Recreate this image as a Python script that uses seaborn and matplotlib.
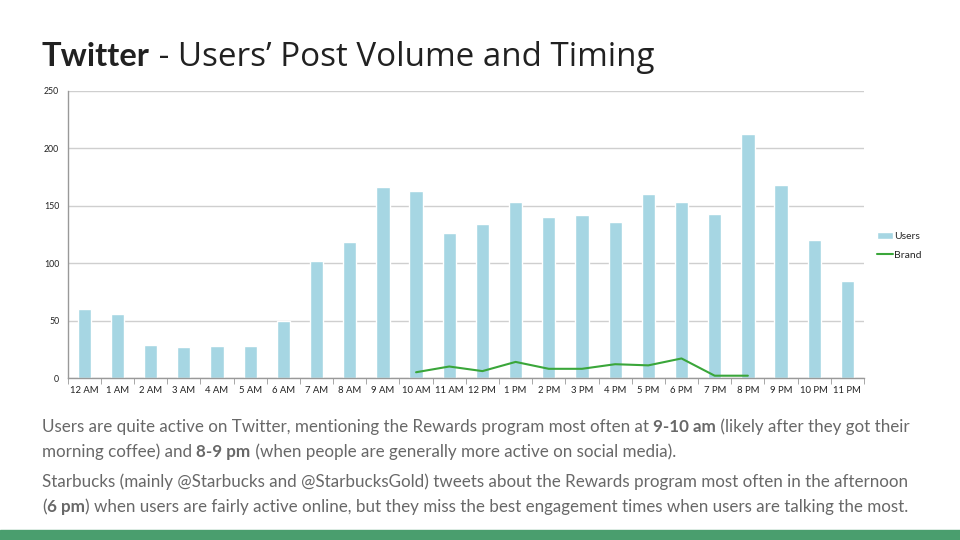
import numpy as np
import pandas as pd
import matplotlib
matplotlib.use("Agg")
import matplotlib.pyplot as plt
import seaborn as sns
from matplotlib.ticker import FixedLocator

hours = ["12 AM", "1 AM", "2 AM", "3 AM", "4 AM", "5 AM", "6 AM", "7 AM", "8 AM", "9 AM",
         "10 AM", "11 AM", "12 PM", "1 PM", "2 PM", "3 PM", "4 PM", "5 PM", "6 PM", "7 PM",
         "8 PM", "9 PM", "10 PM", "11 PM"]
users = [60, 56, 29, 27, 28, 28, 50, 102, 118, 166, 163, 126, 134, 153, 140, 142, 136,
         160, 153, 143, 212, 168, 120, 84]
brand = [np.nan] * 10 + [5, 10, 6, 14, 8, 8, 12, 11, 17, 2, 2] + [np.nan] * 3

df = pd.DataFrame({"hour": hours, "Users": users, "Brand": brand})
df["pos"] = np.arange(len(hours))

sns.set_style("white")
plt.rcParams["font.family"] = ["Lato", "DejaVu Sans"]

fig = plt.figure(figsize=(9.6, 5.4), dpi=100)
ax = fig.add_axes([0.0705, 0.3, 0.8295, 0.532])

sns.barplot(data=df, x="hour", y="Users", color="#a6d6e3", width=0.4, saturation=1,
            ax=ax, label="Users", zorder=2)
sns.lineplot(data=df.dropna(), x="pos", y="Brand", color="#3aa63a", lw=1.5, ax=ax,
             label="Brand", zorder=3)

ax.set_xlim(-0.5, len(hours) - 0.5)
ax.set_ylim(0, 250)
ax.set_yticks([0, 50, 100, 150, 200, 250])
ax.yaxis.grid(True, color="#cfcfcf", lw=1)
ax.set_axisbelow(True)
ax.set_xlabel("")
ax.set_ylabel("")
ax.set_xticks(range(len(hours)))
ax.set_xticklabels(hours)
ax.xaxis.set_minor_locator(FixedLocator(np.arange(-0.5, len(hours), 1)))
ax.tick_params(axis="x", which="major", length=0, labelsize=6.8, colors="#222222", pad=6)
ax.tick_params(axis="x", which="minor", length=4, color="#999999", bottom=True)
ax.tick_params(axis="y", length=0, labelsize=6.3, colors="#222222", pad=6)
for side in ["top", "right"]:
    ax.spines[side].set_visible(False)
for side in ["left", "bottom"]:
    ax.spines[side].set_color("#999999")
    ax.spines[side].set_linewidth(1)

handles, labels = ax.get_legend_handles_labels()
order = [labels.index("Users"), labels.index("Brand")]
ax.legend([handles[i] for i in order], [labels[i] for i in order],
          loc="center left", bbox_to_anchor=(1.005, 0.46), frameon=False,
          fontsize=7.5, handlelength=1.5, handletextpad=0.1, labelspacing=0.9,
          handleheight=0.6)

# title with mixed weight
title_color = "#212121"
t1 = fig.text(42 / 960, 1 - 66 / 540, "Twitter", fontsize=23.5, fontweight="bold",
              color=title_color, va="baseline")
fig.canvas.draw()
r = fig.canvas.get_renderer()
bb = t1.get_window_extent(r)
fig.text(bb.x1 / 960, 1 - 66 / 540, " - Users\u2019 Post Volume and Timing", fontsize=23.9,
         color=title_color, va="baseline", family=["Open Sans", "DejaVu Sans"])


def rich_line(y, parts, size=12.25, color="#686868"):
    x = 42
    for txt, bold in parts:
        t = fig.text(x / 960, 1 - y / 540, txt, fontsize=size, color=color,
                     fontweight="bold" if bold else "normal", va="baseline")
        fig.canvas.draw()
        x = t.get_window_extent(fig.canvas.get_renderer()).x1


rich_line(432, [("Users are quite active on Twitter, mentioning the Rewards program most often at ", False),
                ("9-10 am", True), (" (likely after they got their", False)])
rich_line(457, [("morning coffee) and ", False), ("8-9 pm", True),
                (" (when people are generally more active on social media).", False)])
rich_line(487, [("Starbucks (mainly @Starbucks and @StarbucksGold) tweets about the Rewards program most often in the afternoon", False)])
rich_line(512, [("(", False), ("6 pm", True),
                (") when users are fairly active online, but they miss the best engagement times when users are talking the most.", False)])

fig.patches.append(plt.Rectangle((0, 0), 1, 10 / 540, transform=fig.transFigure,
                                 color="#4a9e6e", zorder=0))

fig.savefig("out.png", dpi=100)
